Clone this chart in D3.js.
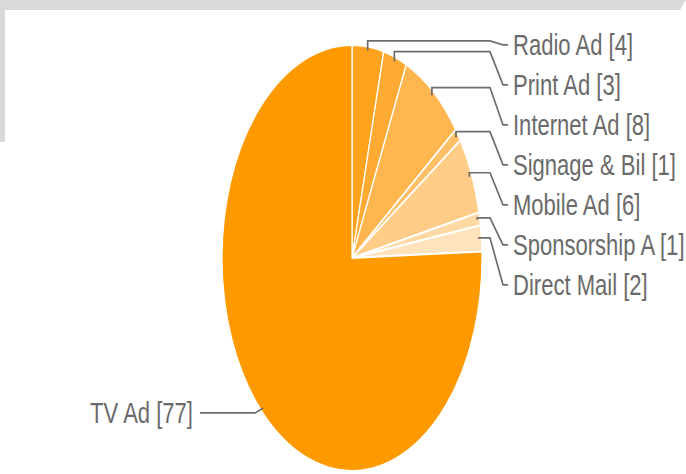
<!DOCTYPE html>
<html>
<head>
<meta charset="utf-8">
<script src="https://cdn.jsdelivr.net/npm/d3@7"></script>
<style>
  html, body { margin: 0; padding: 0; background: #fff; }
  svg { display: block; }
</style>
</head>
<body>
<svg id="chart" width="686" height="474"></svg>
<script>
// pie data, clockwise from 12 o'clock
const labels = ['Radio Ad', 'Print Ad', 'Internet Ad', 'Signage & Bil', 'Mobile Ad', 'Sponsorship A', 'Direct Mail', 'TV Ad']
const values = [4, 3, 8, 1, 6, 1, 2, 77]
const colors = ['#ffa21c', '#ffab33', '#ffb64f', '#ffc068', '#ffcd88', '#ffd9a3', '#ffe3bd', '#ff9900']

const svg = d3.select('#chart')
const W = 686
const H = 474

// window frame leftovers from the screenshot
svg.append('path')
  .attr('d', `M0,0 H${W} L${W - 6},10 H5 V142 H0 Z`)
  .attr('fill', '#d9d9d9')

const cx = 352
const cy = 258
const rx = 130
const ry = 213

const data = labels.map((l, i) => ({ label: l, value: values[i], color: colors[i] }))

const pie = d3.pie()
  .sort(null)
  .value(d => d.value)
  .startAngle(0)
  .endAngle(2 * Math.PI)

const arcs = pie(data)

const arc = d3.arc()
  .innerRadius(0)
  .outerRadius(ry)

// circle squashed into an ellipse
const pieG = svg.append('g')
  .attr('transform', `translate(${cx},${cy}) scale(${rx / ry},1)`)

pieG.selectAll('path')
  .data(arcs)
  .join('path')
  .attr('d', arc)
  .attr('fill', d => d.data.color)
  .attr('stroke', '#fff')
  .attr('stroke-width', 2)

// point on the ellipse edge for an angle measured clockwise from top
const edge = (a, k) => [cx + rx * k * Math.sin(a), cy - ry * k * Math.cos(a)]

const fontSize = 29
const squeeze = 0.76
const lineColor = '#6e6e6e'
const textColor = '#6a6a6a'

const leaderG = svg.append('g')
const labelG = svg.append('g')

// right side labels, stacked from the top
let prevY = -Infinity
arcs.slice(0, arcs.length - 1).forEach((d, i) => {
  const mid = (d.startAngle + d.endAngle) / 2
  const start = edge(mid, 0.98)
  const kneeY = start[1] - 10 * Math.cos(mid)
  let labelY = i === 0 ? kneeY + 4 : Math.max(kneeY, prevY + 40)
  prevY = labelY

  const pts = [start, [start[0], kneeY], [490, kneeY], [503, labelY], [508, labelY]]
  leaderG.append('path')
    .attr('d', d3.line()(pts))
    .attr('fill', 'none')
    .attr('stroke', lineColor)
    .attr('stroke-width', 1.7)

  labelG.append('text')
    .attr('transform', `translate(513,${labelY}) scale(${squeeze},1)`)
    .attr('dy', '0.35em')
    .attr('font-family', 'Liberation Sans, Arial, sans-serif')
    .attr('font-size', fontSize)
    .attr('fill', textColor)
    .text(`${d.data.label} [${d.data.value}]`)
})

// the big slice, labelled on the left
const tv = arcs[arcs.length - 1]
const tvMid = (tv.startAngle + tv.endAngle) / 2
const tvStart = edge(tvMid, 0.98)
const tvY = tvStart[1] + 5
leaderG.append('path')
  .attr('d', d3.line()([tvStart, [tvStart[0] - 8, tvY], [200, tvY]]))
  .attr('fill', 'none')
  .attr('stroke', lineColor)
  .attr('stroke-width', 1.7)

labelG.append('text')
  .attr('transform', `translate(193,${tvY}) scale(${squeeze},1)`)
  .attr('dy', '0.35em')
  .attr('text-anchor', 'end')
  .attr('font-family', 'Liberation Sans, Arial, sans-serif')
  .attr('font-size', fontSize)
  .attr('fill', textColor)
  .text(`${tv.data.label} [${tv.data.value}]`)
</script>
</body>
</html>
